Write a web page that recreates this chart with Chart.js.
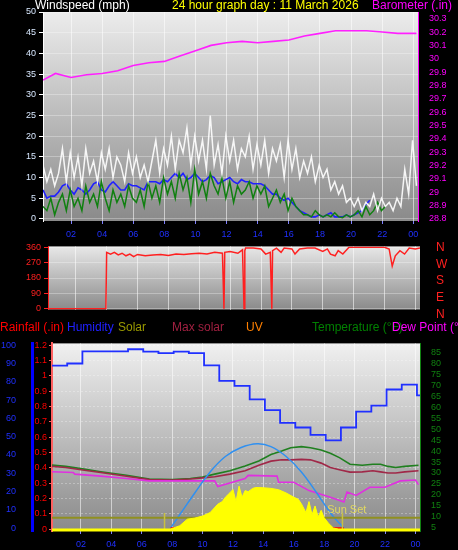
<!DOCTYPE html>
<html><head><meta charset="utf-8">
<script src="https://cdn.jsdelivr.net/npm/chart.js@4/dist/chart.umd.min.js"></script>
<style>
body{margin:0;background:#000;width:458px;height:550px;position:relative;overflow:hidden;font-family:"Liberation Sans",Arial,sans-serif}
canvas{position:absolute;left:0}
.t{position:absolute;font-size:12px;white-space:nowrap;line-height:13px}
</style></head><body>
<canvas id="c1" style="top:0px" width="458" height="240"></canvas>
<canvas id="c2" style="top:238px" width="458" height="80"></canvas>
<canvas id="c3" style="top:330px" width="458" height="220"></canvas>
<div class="t" style="left:35px;top:-1px;color:#fff">Windspeed (mph)</div>
<div class="t" style="left:172px;top:-1px;color:#ffff00">24 hour graph day : 11 March 2026</div>
<div class="t" style="left:372px;top:-1px;color:#ff00ff">Barometer (.in)</div>
<div class="t" style="left:436px;top:239px;color:#ff2020;font-size:12px;line-height:16.7px">N<br>W<br>S<br>E<br>N</div>
<div class="t" style="left:0;top:321px;color:#ff0000">Rainfall (.in)</div>
<div class="t" style="left:67px;top:321px;color:#2020ff">Humidity</div>
<div class="t" style="left:118px;top:321px;color:#999900">Solar</div>
<div class="t" style="left:172px;top:321px;color:#a02040">Max solar</div>
<div class="t" style="left:246px;top:321px;color:#ff8000">UV</div>
<div class="t" style="left:312px;top:321px;color:#008000">Temperature (°F)</div>
<div class="t" style="left:392px;top:321px;color:#ff00ff">Dew Point (°F</div>
<script>
// ---------- data ----------
const windStart = 0.2, windStep = 0.25;
const windGust = [13,9,12,8, 11,17,9,16, 10,15,8,17, 11,14,9,16, 12,17,10,15, 13,9,16,11, 15,10,13,9, 14,19,11,17, 13,20,12,19, 16,22,13,20, 14,19,12,25, 13,18,11,20, 14,19,12,17, 15,20,12,18, 13,19,11,17, 14,18,10,19, 12,17,10,14, 11,15,9,13, 10,12,7,9, 6,8,4,5, 3,5,2,4, 3,6,2,5, 3,4,2,5, 3,12,6,19, 8];
const windAvg = [7,5,5.5,5.5, 6.5,8,8.5,7, 6,7.5,7,6, 7,8.5,9,7, 6.5,8,9,8, 7,7,8.5,8, 8,7.5,7,9, 9,9,8.5,9.5, 9,10,11,10, 11,9.5,10,11, 10,9,9.5,10.5, 10,8.5,9,9.5, 10,9,8.5,9.5, 9,9,8.5,8.5, 8.5,8,7,6, 6,5,4.5,5, 4,3,2,1.5, 1,0.5,0.5,1, 0.5,1,1.5,0.5, 0.5,0.5,1,0.5, 1,1.5,2,3.5, 4.5];
const windSpeed = [3,2,5,1, 4,6,2,7, 3,5,2,8, 4,6,3,9, 5,2,7,4, 6,3,8,5, 4,7,3,9, 5,8,4,10, 6,9,5,11, 7,10,4,12, 6,9,5,11, 8,6,10,5, 9,4,8,6, 7,9,5,8, 6,8,3,5, 7,4,6,2, 5,3,2,1, 1,0.5,2,1, 0.5,1,0.5,1.5, 0.5,0.3,1,0.5, 1,2,0.5,3, 1,2,4,2, 3];
const baroHours = [0.2,1,2,3,4,5,6,7,8,9,10,11,12,13,14,15,16,17,18,19,20,21,22,23,24.2];
const baroVals = [29.84,29.89,29.86,29.88,29.89,29.91,29.95,29.97,29.98,30.02,30.06,30.10,30.12,30.13,30.12,30.13,30.14,30.17,30.19,30.21,30.21,30.21,30.20,30.19,30.19];
const dirHours = [0.2,3.95,4.0,4.25,4.5,4.75,5,5.25,5.5,5.75,6,6.5,7,7.5,8,8.5,9,9.5,10,10.5,11,11.5,11.6,11.65,12,12.5,12.8,12.9,12.95,13,13.5,14,14.3,14.6,14.7,14.75,15,15.3,15.5,16,16.2,16.5,17,17.5,18,18.3,18.5,18.8,19,19.3,19.7,22,22.3,22.5,22.7,23,23.3,23.6,24,24.3];
const dirVals  = [0,0,330,320,330,315,325,310,320,305,318,310,315,318,312,320,318,322,325,320,330,325,0,330,335,325,345,0,340,355,355,350,320,330,0,340,355,330,355,350,320,350,355,355,335,350,320,310,340,320,360,360,350,250,310,340,320,355,350,355];
const humHours = [0.1,1.1,2.1,5.1,6.1,7.1,8.1,9.1,10.1,11.1,12.1,13.1,14.1,15.1,16.1,17.1,18.1,19.1,20.1,21.1,22.1,23.1,24.1,24.3];
const humVals  = [88.8,90,96.6,97.8,96.5,95.7,96.5,95.7,89,80.5,77.8,70.4,64.5,57.5,55,51,48,55,63.7,67,75.8,78.5,72.6,72.6];
const tHours = [0.1,1,2,3.3,5,6.5,8,9.2,10,10.8,11.8,12.8,13.7,14.5,15.2,15.8,16.5,17.1,17.8,18.4,19,19.7,20.5,21.2,21.7,22.2,22.7,23.3,24.2];
const tempVals = [33.6,33,32,30.6,29,27.2,27,27.5,28.2,29.5,31,33.2,35.5,38.4,40,41.5,42,41.5,40.5,39,37,34,33.5,34,34,33,32.5,33,33.5];
const maxVals  = [33,32.5,31.5,30.2,28.5,27,26.8,27.3,27.8,28.3,29.5,31,33.5,35.4,36,36,36.2,36,34.5,32.5,31.5,30.4,30.5,31,30.5,30,30,30.5,31];
const dewHours = [0.1,1.5,1.6,3.3,5,6.5,9.2,10.8,11,12.8,13,14.9,15,16,17,18.4,19.3,19.5,20.1,21,22,23,24,24.2];
const dewVals  = [30.6,30.2,29.5,28.6,27.5,26.4,26.4,26.4,23.8,27.5,28.9,28.6,25.8,25.8,22,19,16.8,21.3,19.8,23.5,23.5,26.4,26.8,24.7];
const sunHours = [7.9,8.5,9.5,10.5,11.5,12.5,13.6,14.5,15.5,16.5,17.5,18.5,19.3];
const sunVals  = [5,11,21,30.5,37.5,41.5,43.3,42,37.5,30.5,21,11,5];
const solHours = [7.9,8.5,9,9.5,10,10.5,11,11.3,11.5,11.8,12,12.2,12.4,12.6,12.8,13,13.3,13.5,14,14.5,15,15.5,16,16.3,16.5,16.8,17,17.2,17.4,17.6,17.8,18,18.3,18.6,18.9];
const solVals  = [4.5,6,9,9.5,10.4,12,15.8,17,19,21,22.5,17,24,19,22,21.5,23,23.4,23.3,23,22.4,20.9,19,18,16,12,17,11,15,10,13,9.6,7,5,4.5];
const uvHours = [0.1,24.3];
const uvVals = [9.6,9.6];
const rainHours = [7.9,19.3];
const rainVals = [0,0];
const hourTicks = [2,4,6,8,10,12,14,16,18,20,22,24];
const windTicks = [0,5,10,15,20,25,30,35,40,45,50];
const baroTicks = [28.8,28.9,29,29.1,29.2,29.3,29.4,29.5,29.6,29.7,29.8,29.9,30,30.1,30.2,30.3];
const dirTicks = [0,90,180,270,360];
const humTicks = [0,10,20,30,40,50,60,70,80,90,100];
const rainTicks = [0,0.1,0.2,0.3,0.4,0.5,0.6,0.7,0.8,0.9,1,1.1,1.2];
const tempTicks = [5,10,15,20,25,30,35,40,45,50,55,60,65,70,75,80,85];

// ---------- helpers ----------
const pts=(xs,ys)=>xs.map((x,i)=>({x,y:ys[i]}));
const windPts=a=>a.map((y,i)=>({x:windStart+i*windStep,y}));
const F={family:"Liberation Sans, Arial",size:9};
const setT=arr=>function(a){a.ticks=arr.map(v=>({value:v}));};
const bg=(top,bot)=>({id:'bg',beforeDraw(c){const a=c.chartArea,x=c.ctx;const g=x.createLinearGradient(0,a.top,0,a.bottom);g.addColorStop(0,top);g.addColorStop(1,bot);x.save();x.fillStyle=g;x.fillRect(a.left,a.top,a.right-a.left,a.bottom-a.top);x.restore();}});
const xAxis=(show,min,max)=>({type:'linear',min,max,afterBuildTicks:setT(hourTicks),
  ticks:{display:show,color:'#2030ff',font:F,autoSkip:false,padding:5,callback:v=>String(v%24).padStart(2,'0')},
  grid:{color:'rgba(255,255,255,0.55)',drawTicks:show,tickLength:3,tickColor:'#8080ff'},border:{display:false},
  afterFit(a){a.height=show?19:0;}});
const ln=(data,color,w,yID,extra={})=>Object.assign({data,borderColor:color,borderWidth:w,pointRadius:0,yAxisID:yID,tension:0},extra);
const common={responsive:false,animation:false,plugins:{legend:{display:false},tooltip:{enabled:false}},events:[]};

// ---------- top: wind + baro ----------
new Chart(document.getElementById('c1'),{type:'line',
 data:{datasets:[
  ln(windPts(windGust),'rgba(255,255,255,0.9)',1.5,'y'),
  ln(windPts(windSpeed),'#108010',1.5,'y'),
  ln(windPts(windAvg),'#2020ff',1.6,'y'),
  ln(pts(baroHours,baroVals),'#ff20ff',1.6,'yb')]},
 options:{...common,layout:{padding:{top:12,left:0,right:0,bottom:0}},
  scales:{x:xAxis(true,0.2,24.3),
   y:{min:-0.5,max:50,position:'left',afterBuildTicks:setT(windTicks),ticks:{autoSkip:false,color:'#d8e8ff',font:F},grid:{color:'rgba(255,255,255,0.3)',tickColor:'#ffffff',tickLength:4},border:{color:'#ffffff'},afterFit(a){a.width=43;}},
   yb:{min:28.785,max:30.35,position:'right',afterBuildTicks:setT(baroTicks),
    ticks:{autoSkip:false,color:'#ff00ff',font:F,callback:v=>String(+v.toFixed(1))},grid:{display:false},border:{color:'#ff00ff'},afterFit(a){a.width=40;}}}},
 plugins:[bg('#ececec','#8a8a8a')]});

// ---------- middle: wind direction ----------
new Chart(document.getElementById('c2'),{type:'line',
 data:{datasets:[ln(pts(dirHours,dirVals),'#ff2020',1.5,'y')]},
 options:{...common,layout:{padding:{top:6,right:0,bottom:0}},
  scales:{x:xAxis(false,0.2,24.3),
   y:{min:-5,max:365,position:'left',afterBuildTicks:setT(dirTicks),ticks:{autoSkip:false,color:'#ff2020',font:F},grid:{color:'rgba(255,255,255,0.3)',tickColor:'#ff2020',tickLength:4},border:{color:'#ff2020'},afterFit(a){a.width=48;}},
   yr:{position:'right',display:true,ticks:{display:false},grid:{display:false},border:{display:false},afterFit(a){a.width=38;}}}},
 plugins:[bg('#e8e8e8','#8a8a8a')]});

// ---------- bottom: temperature etc ----------
const sunsetPlugin={id:'ss',afterDatasetsDraw(c){const x=c.ctx,xs=c.scales.x,yb=c.chartArea.bottom;x.save();x.strokeStyle='#c8c040';x.lineWidth=1.5;
  [7.5,19.2].forEach(h=>{const px=xs.getPixelForValue(h);x.beginPath();x.moveTo(px,yb);x.lineTo(px,yb-18);x.stroke();});
  x.fillStyle='#e0d860';x.font='11px Liberation Sans, Arial';x.fillText('Sun Set',xs.getPixelForValue(18.2),yb-18);
  x.strokeStyle='#ffff00';x.lineWidth=3;x.beginPath();x.moveTo(c.chartArea.left,yb-1);x.lineTo(c.chartArea.right,yb-1);x.stroke();x.restore();}};
new Chart(document.getElementById('c3'),{type:'line',
 data:{datasets:[
  ln(pts(solHours,solVals),'#ffff00',1,'yt',{fill:'start',backgroundColor:'#ffff00'}),
  ln(pts(uvHours,uvVals),'#909020',2,'yt'),
  ln(pts(rainHours,rainVals),'#ff0000',4,'yr'),
  ln(pts(sunHours,sunVals),'#3090f0',1.5,'yt',{tension:0.4}),
  ln(pts(dewHours,dewVals),'#e030e0',1.6,'yt'),
  ln(pts(tHours,maxVals),'#a02848',1.6,'yt'),
  ln(pts(tHours,tempVals),'#208020',1.6,'yt'),
  ln(pts(humHours,humVals),'#2030ff',1.8,'yh',{stepped:'before'})]},
 options:{...common,layout:{padding:{top:10,right:0}},
  scales:{x:xAxis(true,0.1,24.3),
   yr:{min:-0.012,max:1.212,position:'left',weight:0,afterBuildTicks:setT(rainTicks),ticks:{autoSkip:false,color:'#ff0000',font:F,padding:2,callback:v=>String(+v.toFixed(1))},grid:{color:'rgba(255,255,255,0.3)',tickColor:'#ff6060',tickLength:3},border:{color:'#ff6060',dash:[2,2],width:2},afterFit(a){a.width=20;}},
   yh:{min:-1.6,max:101,position:'left',weight:1,afterBuildTicks:setT(humTicks),ticks:{autoSkip:false,color:'#2030ff',font:F,padding:8},grid:{display:false},border:{color:'#0000ff',width:3},afterFit(a){a.width=32;}},
   yt:{min:3.6,max:89,position:'right',afterBuildTicks:setT(tempTicks),ticks:{autoSkip:false,color:'#108010',font:F},grid:{display:false},border:{color:'#108010'},afterFit(a){a.width=38;}}}},
 plugins:[bg('#f0f0f0','#8a8a8a'),sunsetPlugin]});
</script></body></html>
